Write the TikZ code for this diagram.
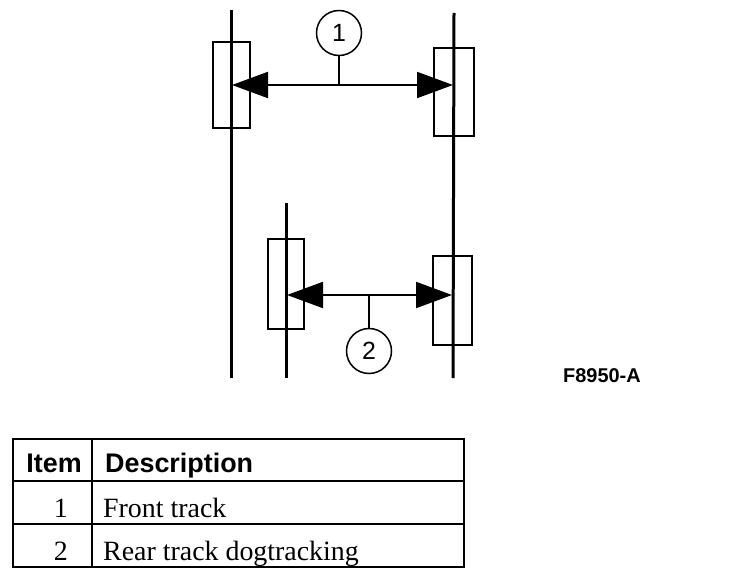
\documentclass[tikz,border=0pt]{standalone}
\usepackage{fontspec}
\setmainfont{Liberation Serif}
\setsansfont{Liberation Sans}
\usetikzlibrary{positioning}
\usetikzlibrary{arrows.meta}
\tikzset{
    track/.style = {line width=3bp,draw=black},
    wheel/.style = {rectangle, line width=2bp, draw=black, inner sep=0pt},
    callout/.style = {circle, line width=1.5bp, draw=black, fill=white, minimum size=45bp, inner sep=0pt, font=\sffamily\fontsize{25}{25}\selectfont},
    edgen/.style = {<->, >={Triangle[length=36bp,width=26bp]}, line width=2bp},
    stem/.style = {line width=1.5bp},
    grid/.style = {line width=2bp},
    headtxt/.style = {inner sep=0pt, font=\sffamily\bfseries\fontsize{27}{27}\selectfont},
    celltxt/.style = {inner sep=0pt, font=\fontsize{28}{28}\selectfont},
}
\begin{document}
\begin{tikzpicture}[x=1bp,y=-1bp]
  \useasboundingbox (0,0) rectangle (736,580);

  % wheels
  \node[wheel, minimum width=37bp, minimum height=86bp] (lf) at (231.5,85) {};
  \node[wheel, minimum width=40bp, minimum height=88bp] (rf) at (454,92) {};
  \node[wheel, minimum width=36bp, minimum height=90bp] (lr) at (286,284) {};
  \node[wheel, minimum width=39bp, minimum height=89bp] (rr) at (452.5,300.5) {};

  % tracks
  \draw[track] (231,10) -- (231,378);
  \draw[track] (454,13) -- (453,378);
  \draw[track] (286,203) -- (286,378);

  % front track
  \coordinate (f1) at (232,85);
  \coordinate (f2) at (453,85);
  \draw[edgen] (f1) -- (f2);
  \node[callout] (c1) at (339,33) {1};
  \draw[stem] (c1) -- (c1 |- f1);

  % rear track
  \coordinate (r1) at (287,295);
  \coordinate (r2) at (452,295);
  \draw[edgen] (r1) -- (r2);
  \node[callout] (c2) at (369,351) {2};
  \draw[stem] (c2) -- (c2 |- r1);

  \node[inner sep=0pt, anchor=base, font=\sffamily\bfseries\fontsize{20}{20}\selectfont] (fig) at (602,382) {F8950-A};

  % table
  \draw[grid] (13,439) rectangle (464,567);
  \draw[grid] (13,481) -- (464,481);
  \draw[grid] (13,524) -- (464,524);
  \draw[grid] (92,439) -- (92,567);
  \node[headtxt, anchor=base east] (item) at (82,472) {Item};
  \node[headtxt, anchor=base west] (desc) at (105,472) {Description};
  \node[celltxt, anchor=base east] (n1) at (68,517) {1};
  \node[celltxt, anchor=base west] (d1) at (103,517) {Front track};
  \node[celltxt, anchor=base east] (n2) at (68,560) {2};
  \node[celltxt, anchor=base west] (d2) at (103,560) {Rear track dogtracking};

\end{tikzpicture}
\end{document}
